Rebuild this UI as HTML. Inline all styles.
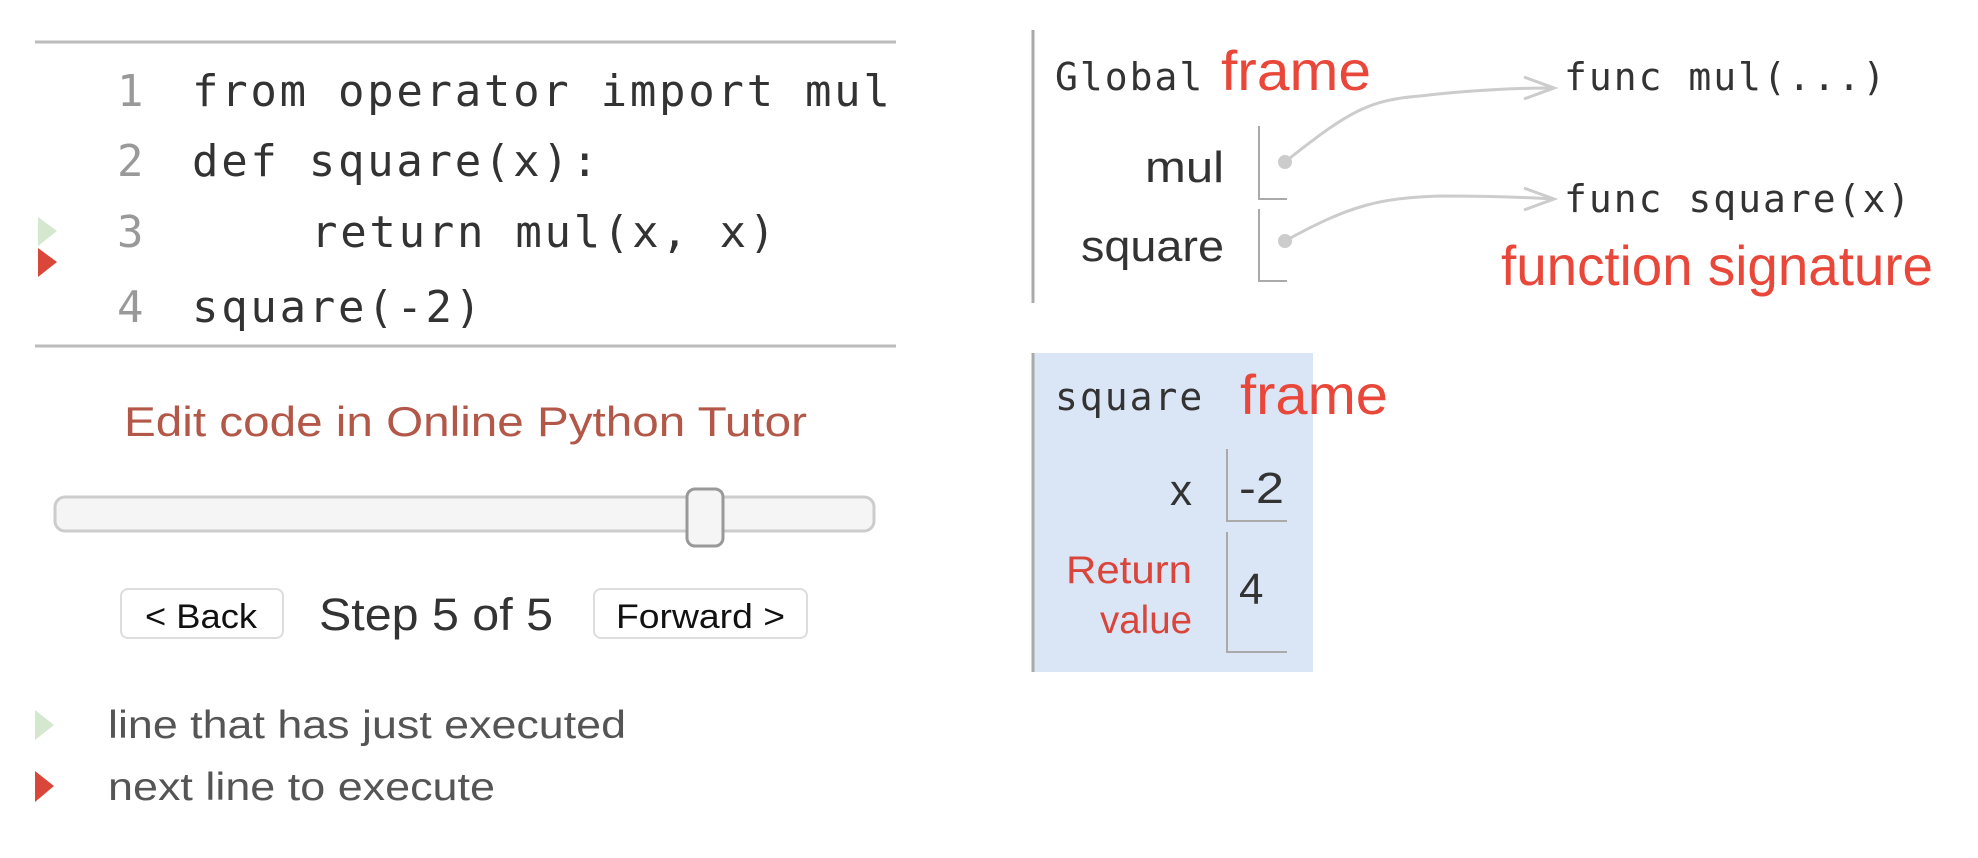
<!DOCTYPE html>
<html><head><meta charset="utf-8"><style>
html,body{margin:0;padding:0;background:#fff;}
svg{display:block}
.mono{font-family:"DejaVu Sans Mono","Liberation Mono",monospace;}
.sans{font-family:"Liberation Sans",sans-serif;}
</style></head><body>
<svg width="1978" height="858" viewBox="0 0 1978 858" xmlns="http://www.w3.org/2000/svg">
<line x1="35" y1="42" x2="896" y2="42" stroke="#bbb" stroke-width="3"/>
<line x1="35" y1="346" x2="896" y2="346" stroke="#bbb" stroke-width="3"/>
<g class="mono" font-size="44" fill="#999">
<text x="117" y="106">1</text><text x="117" y="176">2</text><text x="117" y="247">3</text><text x="117" y="322">4</text>
</g>
<g class="mono" font-size="44" fill="#333" letter-spacing="2.7">
<text x="192" y="106">from operator import mul</text>
<text x="192" y="176">def square(x):</text>
<text x="311" y="247">return mul(x, x)</text>
<text x="192" y="322">square(-2)</text>
</g>
<polygon points="38,217 57,231 38,246" fill="#d4e8d0"/>
<polygon points="38,248 57,262 38,277" fill="#d9473a"/>
<g class="sans" lengthAdjust="spacingAndGlyphs">
<text x="124" y="436" font-size="42" fill="#b35848" textLength="683" lengthAdjust="spacingAndGlyphs">Edit code in Online Python Tutor</text>
</g>
<rect x="55" y="497" width="819" height="34" rx="10" fill="#f5f5f5" stroke="#ccc" stroke-width="3"/>
<rect x="687" y="489" width="36" height="57" rx="8" fill="#f5f5f5" stroke="#999" stroke-width="3"/>
<rect x="121" y="589" width="162" height="49" rx="7" fill="#fff" stroke="#ddd" stroke-width="2"/>
<text x="145" y="628" class="sans" font-size="34" fill="#111" textLength="112" lengthAdjust="spacingAndGlyphs">&lt; Back</text>
<text x="319" y="630" class="sans" font-size="45" fill="#333" textLength="234" lengthAdjust="spacingAndGlyphs">Step 5 of 5</text>
<rect x="594" y="589" width="213" height="49" rx="7" fill="#fff" stroke="#ddd" stroke-width="2"/>
<text x="616" y="628" class="sans" font-size="34" fill="#111" textLength="169" lengthAdjust="spacingAndGlyphs">Forward &gt;</text>
<polygon points="35,710 54,725 35,740" fill="#d4e8d0"/>
<text x="108" y="738" class="sans" font-size="39" fill="#555" textLength="518" lengthAdjust="spacingAndGlyphs">line that has just executed</text>
<polygon points="35,771 54,786 35,802" fill="#d9473a"/>
<text x="108" y="800" class="sans" font-size="39" fill="#555" textLength="387" lengthAdjust="spacingAndGlyphs">next line to execute</text>

<line x1="1033" y1="30" x2="1033" y2="303" stroke="#aaa" stroke-width="3"/>
<text x="1055" y="90" class="mono" font-size="38" fill="#333" letter-spacing="2">Global</text>
<text x="1221" y="90" class="sans" font-size="56" fill="#e8473a" textLength="150" lengthAdjust="spacingAndGlyphs">frame</text>
<text x="1145" y="182" class="sans" font-size="44" fill="#333" textLength="79" lengthAdjust="spacingAndGlyphs">mul</text>
<text x="1081" y="261" class="sans" font-size="44" fill="#333" textLength="143" lengthAdjust="spacingAndGlyphs">square</text>
<polyline points="1259,126 1259,199 1287,199" fill="none" stroke="#aaa" stroke-width="2"/>
<polyline points="1259,209 1259,281 1287,281" fill="none" stroke="#aaa" stroke-width="2"/>
<circle cx="1285" cy="162" r="7" fill="#ccc"/>
<circle cx="1285" cy="241" r="7" fill="#ccc"/>
<path d="M1285,162 C1350,110 1370,100 1420,96 C1470,90 1520,88 1552,88" fill="none" stroke="#ccc" stroke-width="3"/>
<polyline points="1524,77 1554,88 1524,99" fill="none" stroke="#ccc" stroke-width="3"/>
<path d="M1285,241 C1350,205 1380,198 1440,196 C1490,196 1520,197 1552,199" fill="none" stroke="#ccc" stroke-width="3"/>
<polyline points="1524,188 1554,199 1524,210" fill="none" stroke="#ccc" stroke-width="3"/>
<text x="1564" y="90" class="mono" font-size="38" fill="#333" letter-spacing="2">func mul(...)</text>
<text x="1564" y="212" class="mono" font-size="38" fill="#333" letter-spacing="2">func square(x)</text>
<text x="1501" y="285" class="sans" font-size="56" fill="#e8473a" textLength="432" lengthAdjust="spacingAndGlyphs">function signature</text>

<rect x="1032" y="353" width="281" height="319" fill="#dae6f6"/>
<line x1="1033" y1="353" x2="1033" y2="672" stroke="#aaa" stroke-width="3"/>
<text x="1055" y="410" class="mono" font-size="38" fill="#333" letter-spacing="2">square</text>
<text x="1240" y="414" class="sans" font-size="56" fill="#e8473a" textLength="148" lengthAdjust="spacingAndGlyphs">frame</text>
<text x="1192" y="505" text-anchor="end" class="sans" font-size="44" fill="#333">x</text>
<polyline points="1227,449 1227,521 1287,521" fill="none" stroke="#aaa" stroke-width="2"/>
<text x="1239" y="503" class="sans" font-size="44" fill="#333" textLength="45" lengthAdjust="spacingAndGlyphs">-2</text>
<text x="1066" y="583" class="sans" font-size="39" fill="#d9453a" textLength="126" lengthAdjust="spacingAndGlyphs">Return</text>
<text x="1100" y="633" class="sans" font-size="39" fill="#d9453a" textLength="92" lengthAdjust="spacingAndGlyphs">value</text>
<polyline points="1227,532 1227,652 1287,652" fill="none" stroke="#aaa" stroke-width="2"/>
<text x="1239" y="604" class="sans" font-size="44" fill="#333">4</text>
</svg>
</body></html>
